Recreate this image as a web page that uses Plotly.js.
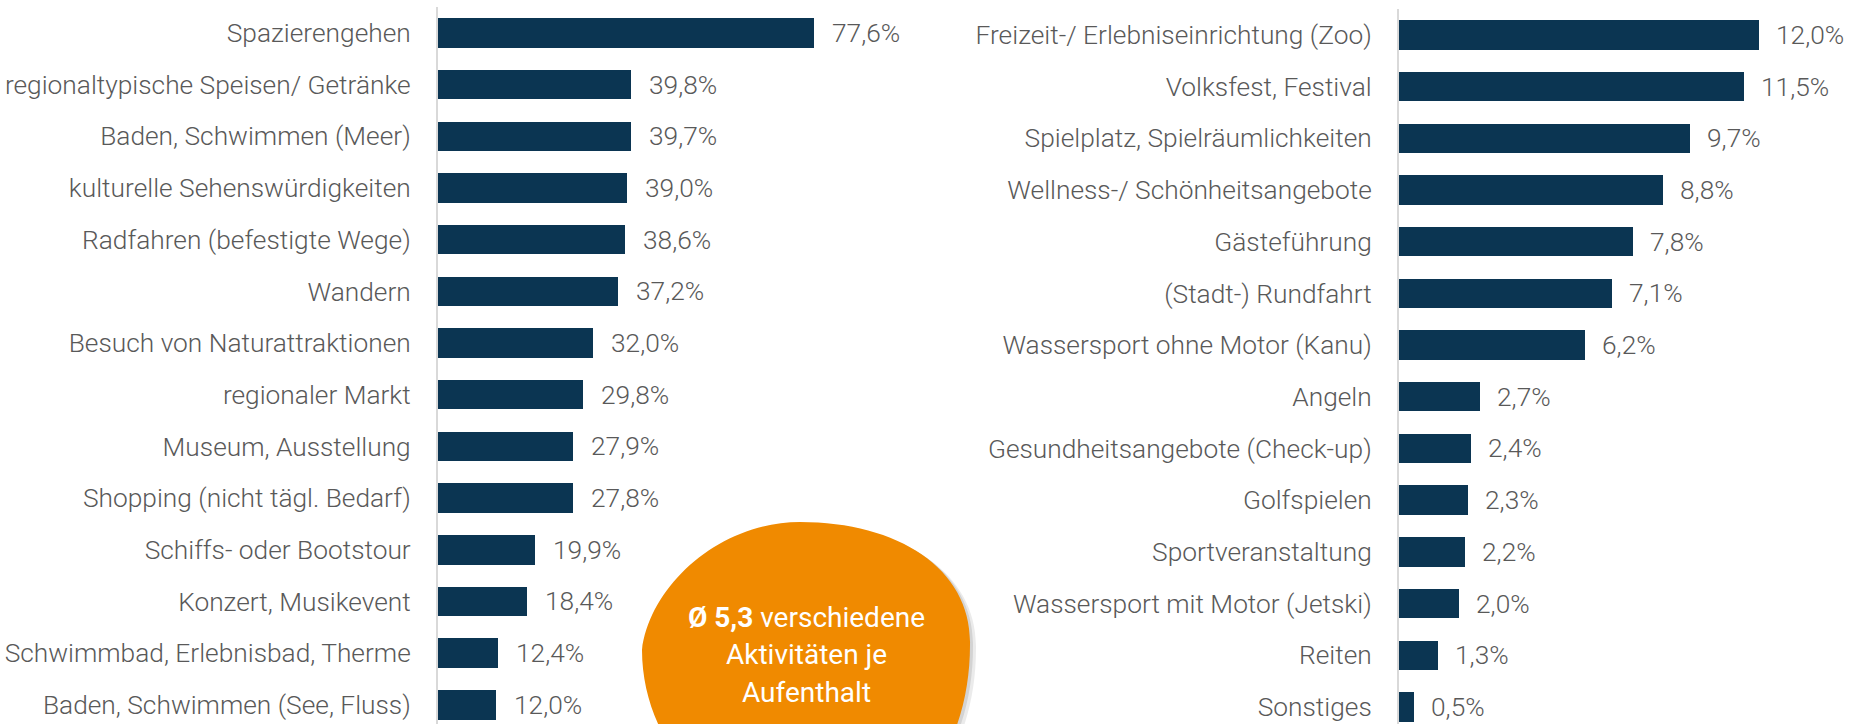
<!DOCTYPE html>
<html>
<head>
<meta charset="utf-8">
<script src="https://cdn.plot.ly/plotly-3.0.1.min.js"></script>
<style>html,body{margin:0;padding:0;background:#fff;}#chart{width:1853px;height:724px;}</style>
</head>
<body>
<div id="chart"></div>
<script>
// ---- data ----
const leftCategories = [
  "Spazierengehen",
  "regionaltypische Speisen/ Getränke",
  "Baden, Schwimmen (Meer)",
  "kulturelle Sehenswürdigkeiten",
  "Radfahren (befestigte Wege)",
  "Wandern",
  "Besuch von Naturattraktionen",
  "regionaler Markt",
  "Museum, Ausstellung",
  "Shopping (nicht tägl. Bedarf)",
  "Schiffs- oder Bootstour",
  "Konzert, Musikevent",
  "Schwimmbad, Erlebnisbad, Therme",
  "Baden, Schwimmen (See, Fluss)"
];
const leftValues = [77.6, 39.8, 39.7, 39.0, 38.6, 37.2, 32.0, 29.8, 27.9, 27.8, 19.9, 18.4, 12.4, 12.0];

const rightCategories = [
  "Freizeit-/ Erlebniseinrichtung (Zoo)",
  "Volksfest, Festival",
  "Spielplatz, Spielräumlichkeiten",
  "Wellness-/ Schönheitsangebote",
  "Gästeführung",
  "(Stadt-) Rundfahrt",
  "Wassersport ohne Motor (Kanu)",
  "Angeln",
  "Gesundheitsangebote (Check-up)",
  "Golfspielen",
  "Sportveranstaltung",
  "Wassersport mit Motor (Jetski)",
  "Reiten",
  "Sonstiges"
];
const rightValues = [12.0, 11.5, 9.7, 8.8, 7.8, 7.1, 6.2, 2.7, 2.4, 2.3, 2.2, 2.0, 1.3, 0.5];

const calloutBold = "Ø 5,3";
const calloutLines = ["verschiedene", "Aktivitäten je", "Aufenthalt"];

// ---- styling ----
const W = 1853, H = 724;
const barColor = "#0b3552";
const textColor = "#595959";
const labelFont = {family: "Roboto, 'Open Sans', sans-serif", size: 26.3, color: textColor, weight: 300};
const px = x => x / W;
const py = y => 1 - y / H;
const fmt = v => v.toFixed(1).replace(".", ",") + "%";

const traces = [
  {type: "bar", orientation: "h", x: leftValues, y: leftCategories, xaxis: "x", yaxis: "y",
   width: 0.57, marker: {color: barColor}, hoverinfo: "skip", showlegend: false},
  {type: "bar", orientation: "h", x: rightValues, y: rightCategories, xaxis: "x2", yaxis: "y2",
   width: 0.57, marker: {color: barColor}, hoverinfo: "skip", showlegend: false}
];

const annotations = [];
leftValues.forEach((v, i) => annotations.push({
  x: v, y: leftCategories[i], xref: "x", yref: "y", text: fmt(v), showarrow: false,
  xanchor: "left", yanchor: "middle", xshift: 16, font: labelFont
}));
rightValues.forEach((v, i) => annotations.push({
  x: v, y: rightCategories[i], xref: "x2", yref: "y2", text: fmt(v), showarrow: false,
  xanchor: "left", yanchor: "middle", xshift: 15, font: labelFont
}));

// callout text
const calloutFont = {family: "Roboto, sans-serif", size: 28, color: "#ffffff", weight: 400};
const calloutY = [617, 654, 692];
annotations.push({
  x: px(806), y: py(calloutY[0]), xref: "paper", yref: "paper", showarrow: false,
  xanchor: "center", yanchor: "middle",
  text: "<b>" + calloutBold + "</b> " + calloutLines[0], font: calloutFont
});
annotations.push({
  x: px(806), y: py(calloutY[1]), xref: "paper", yref: "paper", showarrow: false,
  xanchor: "center", yanchor: "middle", text: calloutLines[1], font: calloutFont
});
annotations.push({
  x: px(806), y: py(calloutY[2]), xref: "paper", yref: "paper", showarrow: false,
  xanchor: "center", yanchor: "middle", text: calloutLines[2], font: calloutFont
});

// blob path in pixel coords -> paper
function blobPath(dx, dy) {
  const P = (x, y) => px(x + dx) + "," + py(y + dy);
  return "M " + P(642, 650) +
    " C " + P(650, 585) + " " + P(720, 522) + " " + P(800, 522) +
    " C " + P(900, 522) + " " + P(972, 570) + " " + P(970, 645) +
    " C " + P(970, 740) + " " + P(920, 830) + " " + P(812, 830) +
    " C " + P(720, 830) + " " + P(642, 745) + " " + P(642, 650) + " Z";
}
const shapes = [
  {type: "path", xref: "paper", yref: "paper", path: blobPath(6, 4), fillcolor: "rgba(0,0,0,0.08)", line: {width: 0}, layer: "above"},
  {type: "path", xref: "paper", yref: "paper", path: blobPath(3, 2), fillcolor: "rgba(0,0,0,0.10)", line: {width: 0}, layer: "above"},
  {type: "path", xref: "paper", yref: "paper", path: blobPath(0, 0), fillcolor: "#f08a00", line: {width: 0}, layer: "above"}
];

const axisCommonX = {showgrid: false, zeroline: false, showticklabels: false, ticks: "", showline: false, fixedrange: true};
const axisCommonY = {type: "category", showgrid: false, zeroline: false, ticks: "", showline: true,
  linecolor: "#d9d9d9", linewidth: 2, ticklabelstandoff: 20, tickfont: labelFont, fixedrange: true};

const layout = {
  width: W, height: H,
  margin: {l: 0, r: 0, t: 0, b: 0, pad: 0},
  paper_bgcolor: "#ffffff", plot_bgcolor: "rgba(0,0,0,0)",
  showlegend: false, bargap: 0,
  xaxis: Object.assign({}, axisCommonX, {domain: [px(438), px(438 + 80 * 4.85)], range: [0, 80]}),
  yaxis: Object.assign({}, axisCommonY, {domain: [0, py(7)], range: [13.37, -0.5],
    categoryorder: "array", categoryarray: leftCategories, anchor: "x"}),
  xaxis2: Object.assign({}, axisCommonX, {domain: [px(1399), px(1399 + 14 * 30)], range: [0, 14], anchor: "y2"}),
  yaxis2: Object.assign({}, axisCommonY, {domain: [0, py(9)], range: [13.33, -0.5],
    categoryorder: "array", categoryarray: rightCategories, anchor: "x2"}),
  annotations: annotations,
  shapes: shapes
};

Plotly.newPlot("chart", traces, layout, {displayModeBar: false, staticPlot: true});
</script>
</body>
</html>
